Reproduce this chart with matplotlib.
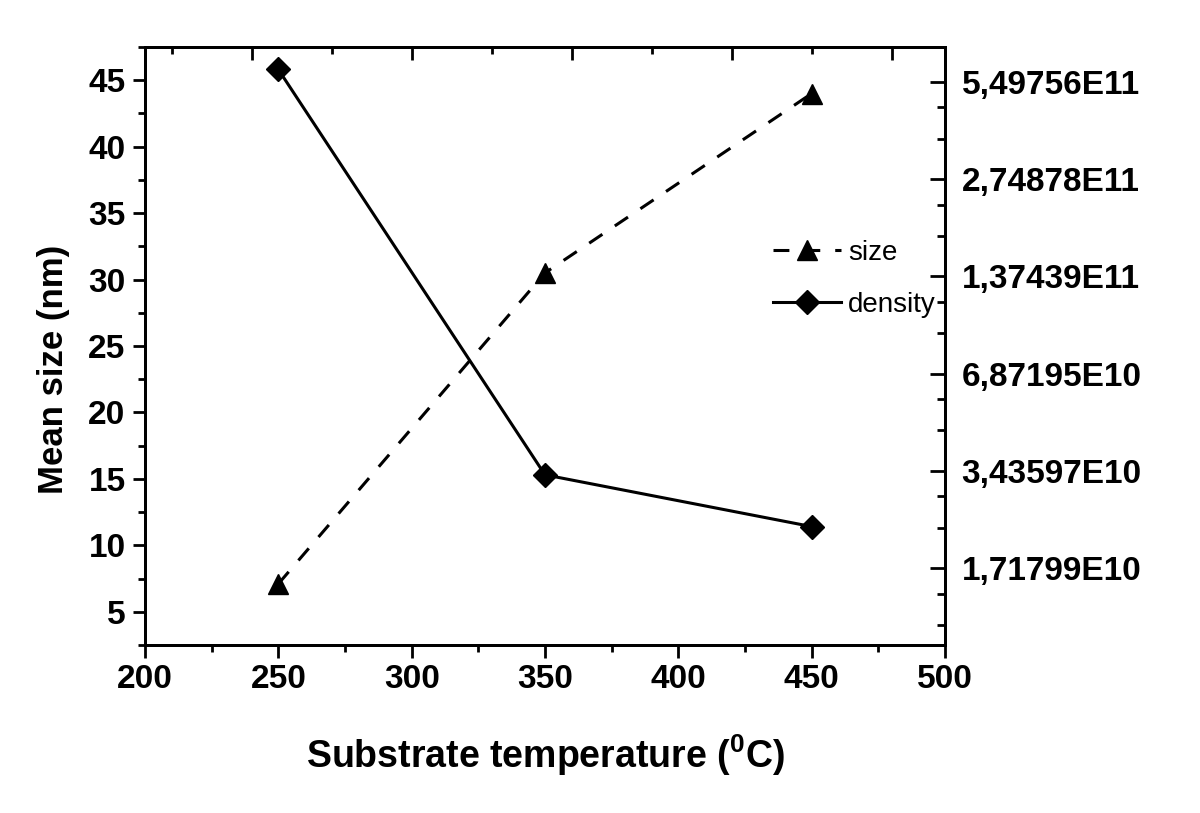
import matplotlib
matplotlib.use("Agg")
import matplotlib.pyplot as plt
from matplotlib.ticker import MultipleLocator, FixedLocator, NullFormatter, FixedFormatter

# ---- data ----
temperature = [250, 350, 450]
mean_size = [7.1, 30.5, 44.0]
density = [6.0e11, 3.34e10, 2.31e10]

right_tick_values = [2**34, 2**35, 2**36, 2**37, 2**38, 2**39]
right_tick_labels = ["1,71799E10", "3,43597E10", "6,87195E10",
                     "1,37439E11", "2,74878E11", "5,49756E11"]

plt.rcParams['font.family'] = ['Liberation Sans', 'DejaVu Sans']
plt.rcParams['mathtext.fontset'] = 'custom'
plt.rcParams['mathtext.rm'] = 'Liberation Sans:bold'
plt.rcParams['mathtext.bf'] = 'Liberation Sans:bold'
plt.rcParams['mathtext.it'] = 'Liberation Sans:bold'

fig = plt.figure(figsize=(12, 8.13), dpi=100)
ax = fig.add_axes([145/1200, 1-645/813, 800/1200, 598/813])
ax2 = ax.twinx()
ax3 = ax.twiny()

lw_spine = 2.0
for a in (ax, ax2, ax3):
    for s in a.spines.values():
        s.set_linewidth(lw_spine)

# left / bottom axis
ax.set_xlim(200, 500)
ax.set_ylim(2.5, 47.5)
ax.xaxis.set_major_locator(MultipleLocator(50))
ax.xaxis.set_minor_locator(MultipleLocator(25))
ax.yaxis.set_major_locator(MultipleLocator(5))
ax.yaxis.set_minor_locator(MultipleLocator(2.5))
ax.tick_params(axis='both', which='major', direction='out', length=9, width=2,
               labelsize=24, pad=5)
ax.tick_params(axis='both', which='minor', direction='out', length=5, width=2)
ax.tick_params(axis='y', which='both', right=False)
ax.tick_params(axis='x', which='both', top=False)
for lab in ax.get_xticklabels() + ax.get_yticklabels():
    lab.set_fontweight('bold')

# top axis (ticks only)
ax3.set_xlim(200, 500)
ax3.xaxis.set_major_locator(MultipleLocator(60))
ax3.xaxis.set_minor_locator(MultipleLocator(30))
ax3.xaxis.set_major_formatter(NullFormatter())
ax3.tick_params(axis='x', which='major', direction='in', length=9, width=2)
ax3.tick_params(axis='x', which='minor', direction='in', length=5, width=2)

# right axis (log2)
ax2.set_yscale('log', base=2)
ax2.set_ylim(2**33.21, 2**39.357)
ymin = 2**33.21
ax2.yaxis.set_major_locator(FixedLocator([ymin] + right_tick_values))
ax2.yaxis.set_major_formatter(FixedFormatter([""] + right_tick_labels))
minors = []
for p in range(33, 40):
    for k in (4/3, 5/3):
        minors.append(2**p * k)
ax2.yaxis.set_minor_locator(FixedLocator(minors))
ax2.yaxis.set_minor_formatter(NullFormatter())
ax2.tick_params(axis='y', which='major', direction='in', length=11, width=2,
                labelsize=24, pad=12)
ax2.tick_params(axis='y', which='minor', direction='in', length=6, width=2)
for lab in ax2.get_yticklabels():
    lab.set_fontweight('bold')

# data
l1, = ax.plot(temperature, mean_size, color='black', lw=2.2, dashes=(5.2, 4.9),
              marker='^', ms=15, label='size', zorder=3)
l2, = ax2.plot(temperature, density, color='black', lw=2.2, linestyle='-',
               marker='D', ms=12, label='density', zorder=3)

leg = ax2.legend(handles=[l1, l2], loc='center left', frameon=False,
                 bbox_to_anchor=(773/1200, 1-279/813), bbox_transform=fig.transFigure,
                 fontsize=20, handlelength=2.45, handletextpad=0.25,
                 labelspacing=0.95, borderpad=0, borderaxespad=0)

fig.text(545/1200, 1-755/813, r'Substrate temperature ($^{0}$C)', ha='center',
         va='center', fontsize=27, fontweight='bold')
fig.text(54/1200, 1-369/813, 'Mean size (nm)', ha='center', va='center',
         rotation=90, fontsize=25, fontweight='bold')

fig.savefig('out.png', dpi=100)
